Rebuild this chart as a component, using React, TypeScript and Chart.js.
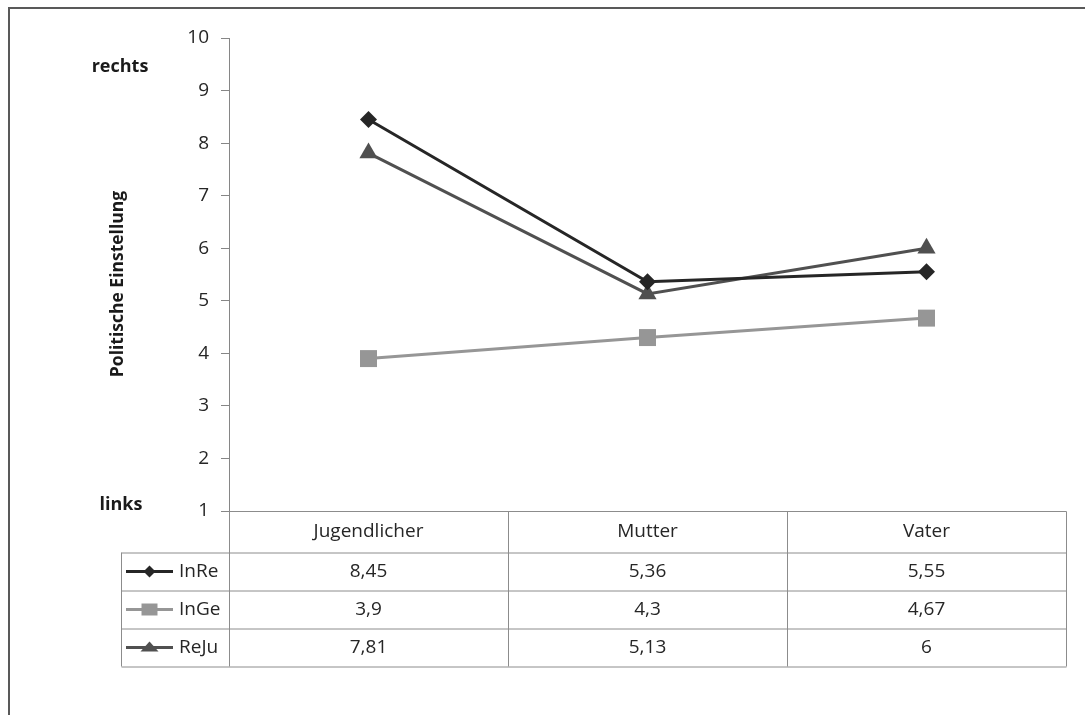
import React, { useEffect, useRef } from 'react';
import { Chart, registerables } from 'chart.js';

Chart.register(...registerables);

// ---- data ----
const categories = ['Jugendlicher', 'Mutter', 'Vater'];
const seriesNames = ['InRe', 'InGe', 'ReJu'];
const inReValues = [8.45, 5.36, 5.55];
const inGeValues = [3.9, 4.3, 4.67];
const reJuValues = [7.81, 5.13, 6];
const yMin = 1;
const yMax = 10;
const yStep = 1;
const axisTitle = 'Politische Einstellung';
const topLabel = 'rechts';
const bottomLabel = 'links';

const seriesValues = [inReValues, inGeValues, reJuValues];
const seriesColors = ['#262626', '#969696', '#505050'];
const seriesStyles = ['rectRot', 'rect', 'triangle'];
const seriesRadius = [8.5, 12, 10.5];

const FONT = '"Open Sans", "Noto Sans", sans-serif';

function drawMarker(ctx: CanvasRenderingContext2D, style: string, x: number, y: number, color: string) {
  ctx.save();
  ctx.fillStyle = color;
  ctx.beginPath();
  if (style === 'rectRot') {
    const r = 6;
    ctx.moveTo(x - r, y);
    ctx.lineTo(x, y - r);
    ctx.lineTo(x + r, y);
    ctx.lineTo(x, y + r);
    ctx.closePath();
  } else if (style === 'rect') {
    ctx.rect(x - 8, y - 6, 16, 12);
  } else {
    ctx.moveTo(x, y - 6);
    ctx.lineTo(x + 9, y + 4);
    ctx.lineTo(x - 9, y + 4);
    ctx.closePath();
  }
  ctx.fill();
  ctx.restore();
}

const tablePlugin = {
  id: 'tablePlugin',
  afterDraw(chart: any) {
    const ctx: CanvasRenderingContext2D = chart.ctx;
    const area = chart.chartArea;
    const xScale = chart.scales.x;
    const left = Math.round(area.left) + 0.5;
    const right = Math.round(area.right) + 0.5;
    const top = Math.round(area.bottom) + 0.5;
    const legendLeft = 121.5;
    const headerH = 41;
    const rowH = 38;
    const rows = seriesNames.length;
    const bottom = top + headerH + rowH * rows;

    ctx.save();
    // outer frame
    ctx.strokeStyle = '#595959';
    ctx.lineWidth = 2;
    ctx.beginPath();
    ctx.moveTo(9, chart.height + 2);
    ctx.lineTo(9, 8);
    ctx.lineTo(chart.width + 2, 8);
    ctx.stroke();

    // table grid
    ctx.strokeStyle = '#8c8c8c';
    ctx.lineWidth = 1;
    ctx.beginPath();
    ctx.moveTo(left, top);
    ctx.lineTo(right, top);
    for (let r = 0; r <= rows; r++) {
      const y = Math.round(top + headerH + r * rowH);
      ctx.moveTo(legendLeft, y);
      ctx.lineTo(right, y);
    }
    ctx.moveTo(legendLeft, top + headerH);
    ctx.lineTo(legendLeft, bottom);
    ctx.moveTo(left, top);
    ctx.lineTo(left, bottom);
    const n = categories.length;
    const catW = (area.right - area.left) / n;
    for (let i = 1; i <= n; i++) {
      const x = Math.round(area.left + i * catW) + 0.5;
      ctx.moveTo(x, top);
      ctx.lineTo(x, bottom);
    }
    ctx.stroke();

    // header text
    ctx.fillStyle = '#262626';
    ctx.font = `19px ${FONT}`;
    ctx.textAlign = 'center';
    ctx.textBaseline = 'middle';
    categories.forEach((c, i) => {
      ctx.fillText(c, xScale.getPixelForValue(i), top + headerH / 2);
    });

    // rows
    seriesNames.forEach((name, r) => {
      const cy = top + headerH + r * rowH + rowH / 2;
      ctx.strokeStyle = seriesColors[r];
      ctx.lineWidth = 3;
      ctx.beginPath();
      ctx.moveTo(126, cy);
      ctx.lineTo(173, cy);
      ctx.stroke();
      drawMarker(ctx, seriesStyles[r], 149.5, cy, seriesColors[r]);
      ctx.fillStyle = '#262626';
      ctx.textAlign = 'left';
      ctx.fillText(name, 179, cy);
      ctx.textAlign = 'center';
      seriesValues[r].forEach((v, i) => {
        ctx.fillText(String(v).replace('.', ','), xScale.getPixelForValue(i), cy);
      });
    });

    // labels
    ctx.font = `bold 18px ${FONT}`;
    ctx.fillStyle = '#1a1a1a';
    ctx.textAlign = 'center';
    ctx.fillText(topLabel, 120, 67);
    ctx.fillText(bottomLabel, 121, 505);
    ctx.save();
    ctx.translate(118, 284);
    ctx.rotate(-Math.PI / 2);
    ctx.font = `bold 17.5px ${FONT}`;
    ctx.fillText(axisTitle, 0, 0);
    ctx.restore();

    ctx.restore();
  },
};

export default function App() {
  const ref = useRef<HTMLCanvasElement>(null);
  useEffect(() => {
    if (!ref.current) return;
    const chart = new Chart(ref.current, {
      type: 'line',
      data: {
        labels: categories,
        datasets: seriesNames.map((name, i) => ({
          label: name,
          data: seriesValues[i],
          borderColor: seriesColors[i],
          backgroundColor: seriesColors[i],
          borderWidth: 3,
          pointStyle: seriesStyles[i] as any,
          pointRadius: seriesRadius[i],
          pointBorderWidth: 0,
          pointBackgroundColor: seriesColors[i],
          tension: 0,
          clip: false as any,
        })),
      },
      options: {
        responsive: false,
        animation: false,
        layout: { padding: { left: 0, top: 38, right: 19, bottom: 204 } },
        plugins: { legend: { display: false }, tooltip: { enabled: false } },
        scales: {
          x: { type: 'category', offset: true, display: false },
          y: {
            min: yMin,
            max: yMax,
            ticks: {
              stepSize: yStep,
              font: { family: FONT, size: 19 },
              color: '#262626',
              padding: 12,
            },
            grid: { drawOnChartArea: false, drawTicks: true, tickLength: 8, color: '#868686' },
            border: { display: true, color: '#868686', width: 1 },
            afterFit: (s: any) => {
              s.width = 229;
              s.paddingTop = 0;
              s.paddingBottom = 0;
            },
          },
        },
      },
      plugins: [tablePlugin],
    });
    return () => chart.destroy();
  }, []);
  return (
    <div style={{ position: 'fixed', left: 0, top: 0, width: 1085, height: 715, background: '#fff' }}>
      <canvas ref={ref} width={1085} height={715} style={{ display: 'block' }} />
    </div>
  );
}
